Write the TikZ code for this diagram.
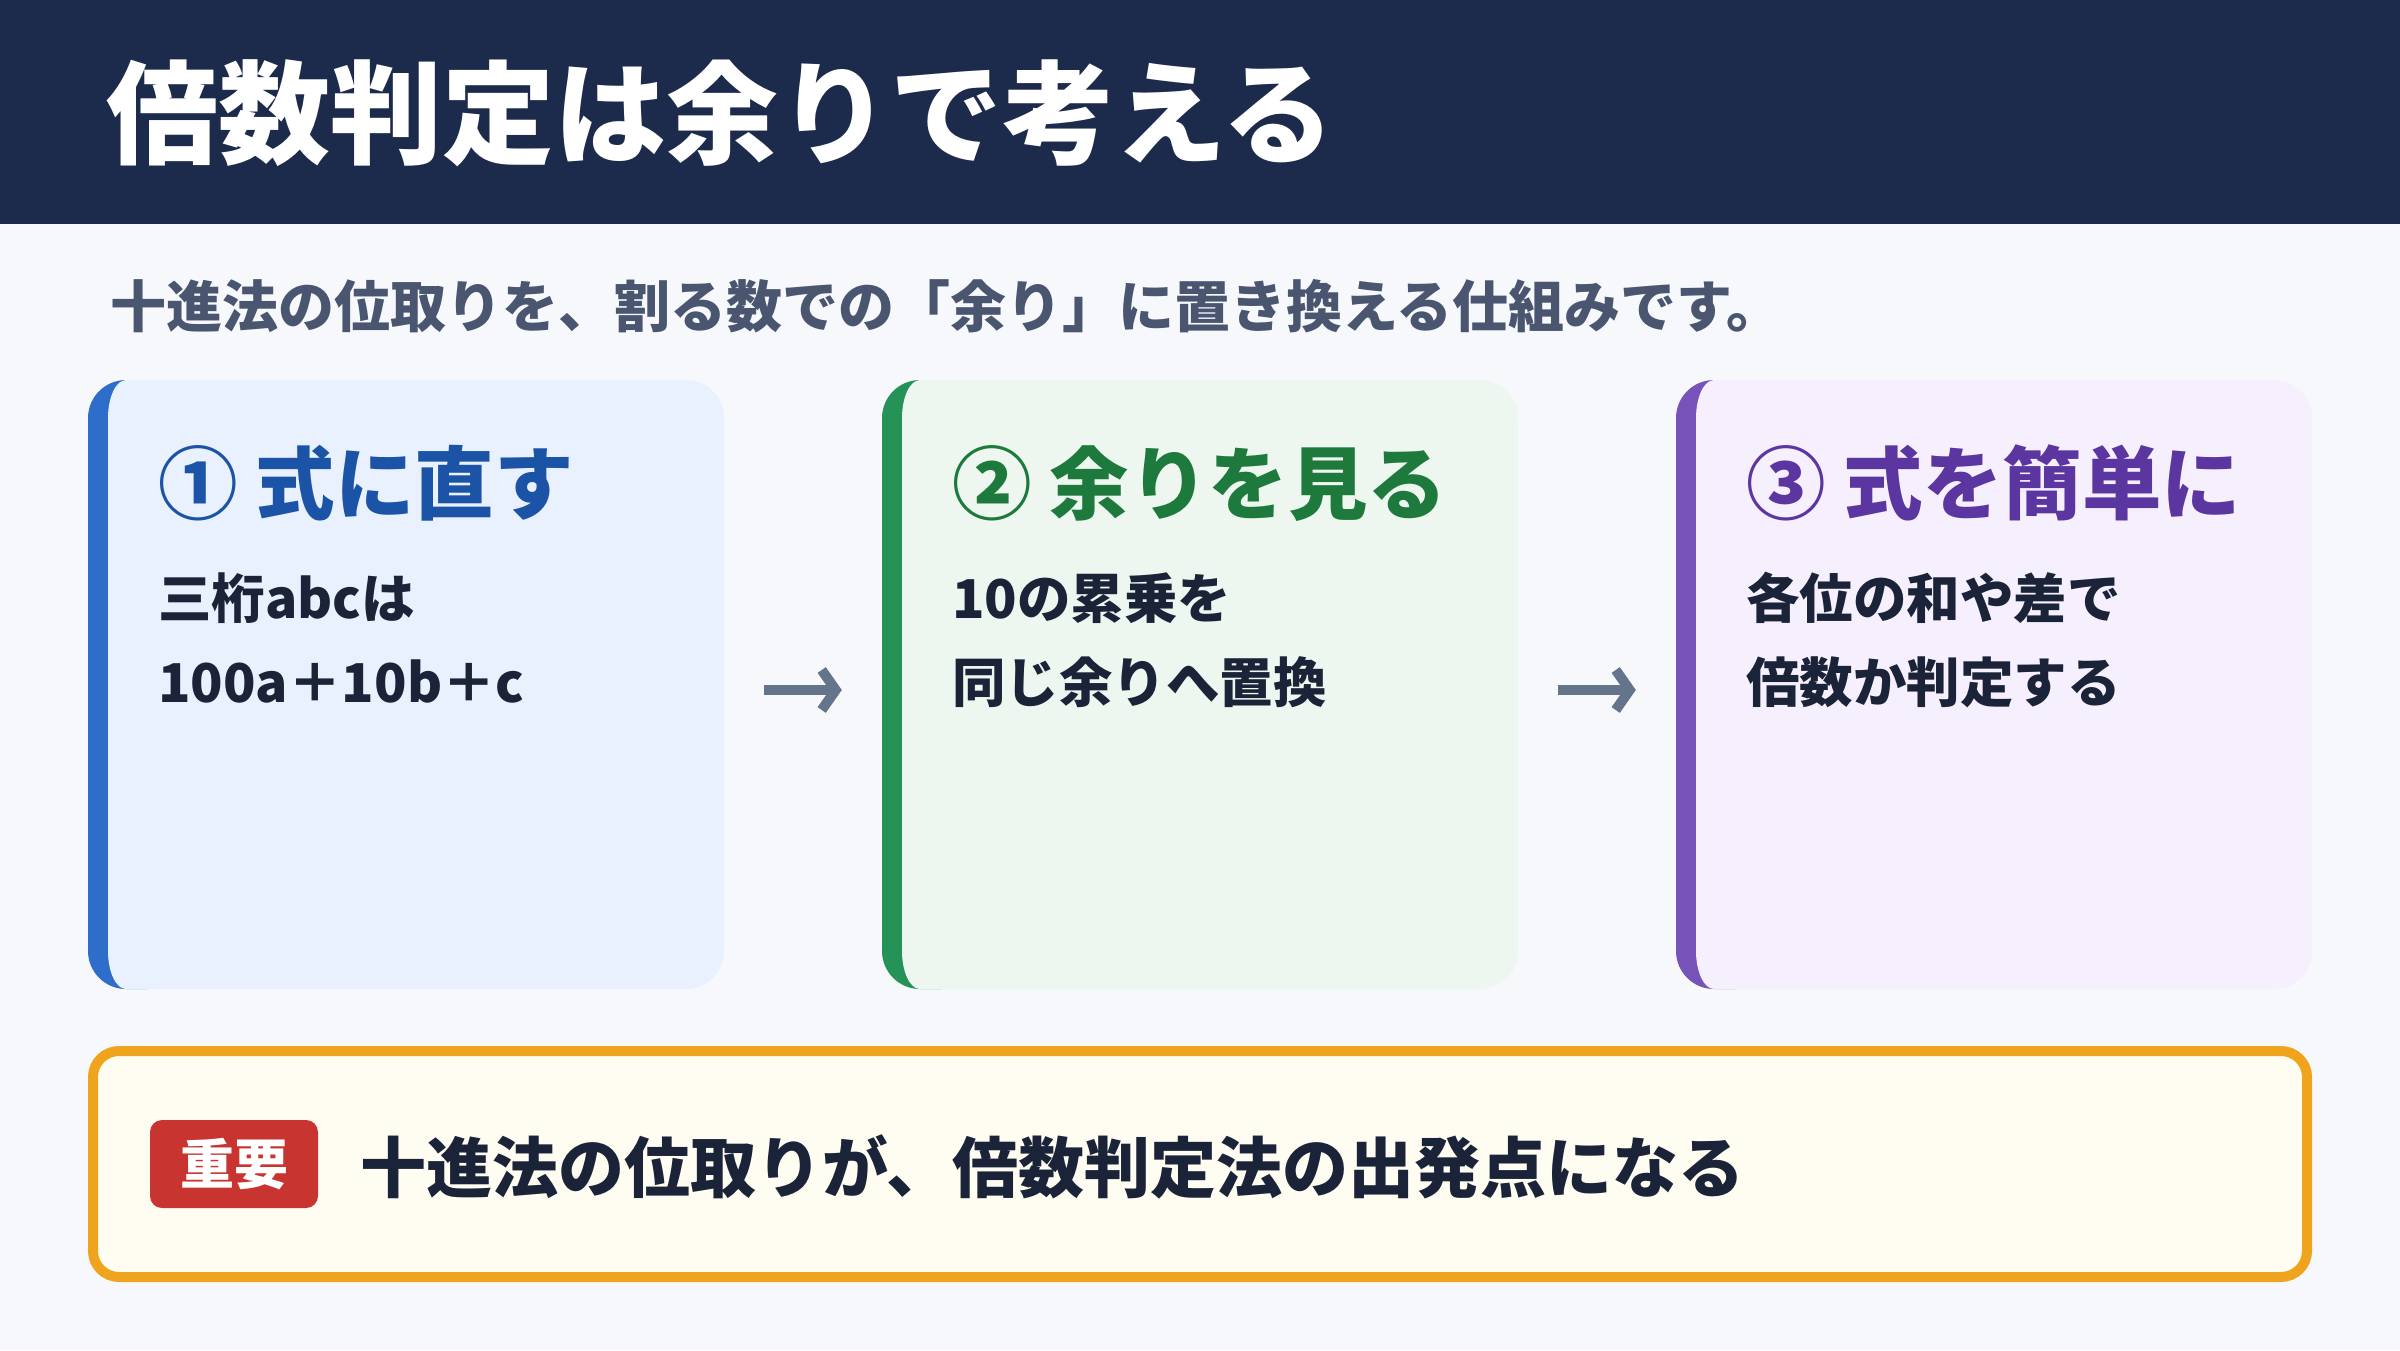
\documentclass[tikz,border=0pt]{standalone}
\usepackage{fontspec}
\setmainfont{Noto Sans CJK JP}
\usetikzlibrary{arrows.meta}
\definecolor{pagebg}{HTML}{F6F8FC}
\definecolor{navy}{HTML}{1C2A4B}
\definecolor{subc}{HTML}{4A5670}
\definecolor{bodyc}{HTML}{1A2338}
\definecolor{blueT}{HTML}{1B53A6}
\definecolor{blueB}{HTML}{2E6DC9}
\definecolor{blueF}{HTML}{EAF1FE}
\definecolor{greenT}{HTML}{1D7A3C}
\definecolor{greenB}{HTML}{259357}
\definecolor{greenF}{HTML}{EDF7EF}
\definecolor{purpT}{HTML}{5C36A0}
\definecolor{purpB}{HTML}{7752B8}
\definecolor{purpF}{HTML}{F5EFFE}
\definecolor{arrowc}{HTML}{64748B}
\definecolor{orangec}{HTML}{F0A31C}
\definecolor{creamc}{HTML}{FFFDF2}
\definecolor{redc}{HTML}{C8342F}
\newcommand\fsz[1]{\fontsize{#1}{#1}\selectfont}
\newcommand\mkcard[4]{%
  \begin{scope}
    \clip ({#1-5},370) rectangle ({#1+60},1000);
    \node[cardbox, fill=#3] (#2) at ({#1+318},684.5) {};
  \end{scope}
  \fill[#4] ({#1+20},418) .. controls ({#1+20},397) and ({#1+28},380) .. ({#1+38},380)
    -- ({#1+598},380) .. controls ({#1+619},380) and ({#1+636},397) .. ({#1+636},418)
    -- ({#1+636},951) .. controls ({#1+636},972) and ({#1+619},989) .. ({#1+598},989)
    -- ({#1+38},989) .. controls ({#1+28},989) and ({#1+20},972) .. ({#1+20},951) -- cycle;
}
\begin{document}
\begin{tikzpicture}[x=1pt,y=-1pt,
  txt/.style={inner sep=0pt, anchor=base west},
  hdr/.style={txt, text=white, font=\bfseries\fsz{112}},
  subt/.style={txt, text=subc, font=\bfseries\fsz{56}},
  ctitle/.style={txt, font=\bfseries\fsz{79.5}},
  body/.style={txt, text=bodyc, font=\bfseries\fsz{53.5}},
  cardbox/.style={rectangle, inner sep=0pt, minimum width=636pt, minimum height=609pt, rounded corners=38pt},
  flow/.style={draw=arrowc, line width=10pt, -{Straight Barb[length=14pt,width=40pt]}},
  notebox/.style={rectangle, draw=orangec, fill=creamc, line width=10pt, rounded corners=26pt, minimum width=2214pt, minimum height=226pt, inner sep=0pt},
  badge/.style={rectangle, fill=redc, rounded corners=12pt, minimum width=168pt, minimum height=88pt, inner sep=0pt, text=white, font=\bfseries\fsz{54}},
  note/.style={txt, text=bodyc, font=\bfseries\fsz{66}}
]
\useasboundingbox (0,0) rectangle (2400,1350);
\fill[pagebg] (0,0) rectangle (2400,1350);
\fill[navy] (0,0) rectangle (2400,224);
\node[hdr] (title) at (106,155) {倍数判定は余りで考える};
\node[subt] (subtitle) at (110,327) {十進法の位取りを、割る数での「余り」に置き換える仕組みです。};

\mkcard{88}{c1}{blueB}{blueF}
\mkcard{882}{c2}{greenB}{greenF}
\mkcard{1676}{c3}{purpB}{purpF}

\node[ctitle, text=blueT] (h1) at (158,513) {①\ 式に直す};
\node[body] (b1a) at (158,618) {三桁abcは};
\node[body] (b1b) at (158,702) {100a＋10b＋c};

\node[ctitle, text=greenT] (h2) at (952,513) {②\ 余りを見る};
\node[body] (b2a) at (952,618) {10の累乗を};
\node[body] (b2b) at (952,702) {同じ余りへ置換};

\node[ctitle, text=purpT] (h3) at (1746,513) {③\ 式を簡単に};
\node[body] (b3a) at (1746,618) {各位の和や差で};
\node[body] (b3b) at (1746,702) {倍数か判定する};

\draw[flow] ([xshift=40pt,yshift=-5.5pt]c1.east) -- ([xshift=-40pt,yshift=-5.5pt]c2.west);
\draw[flow] ([xshift=40pt,yshift=-5.5pt]c2.east) -- ([xshift=-40pt,yshift=-5.5pt]c3.west);

\node[notebox] (nb) at (1200,1164) {};
\node[badge] (bd) at (234,1164) {重要};
\node[note] (nt) at (360,1192) {十進法の位取りが、倍数判定法の出発点になる};
\end{tikzpicture}
\end{document}
